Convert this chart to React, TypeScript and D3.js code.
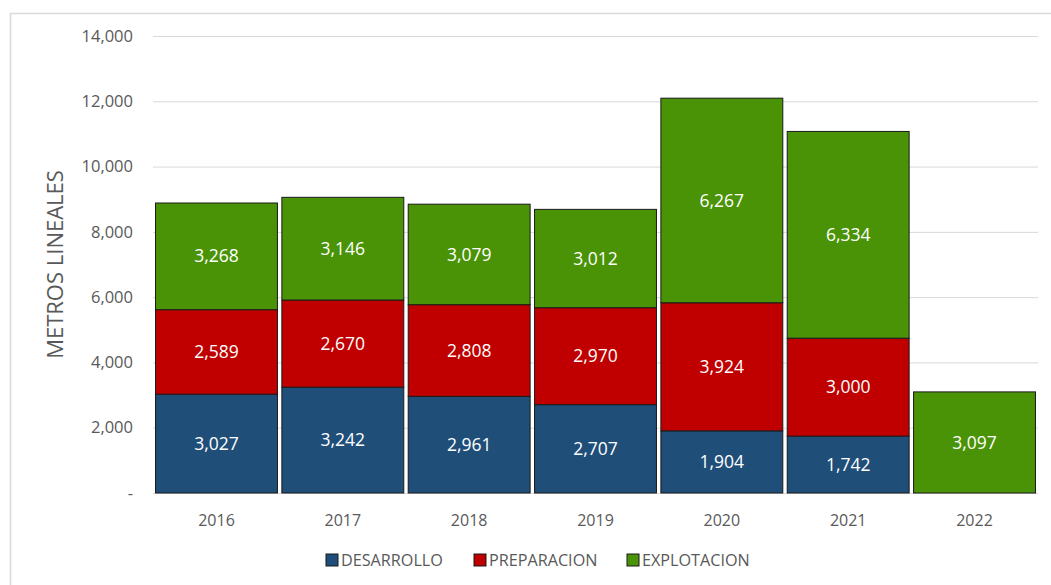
import React from 'react'
import * as d3 from 'd3'

const years = ['2016', '2017', '2018', '2019', '2020', '2021', '2022']
const desarrollo = [3027, 3242, 2961, 2707, 1904, 1742, 0]
const preparacion = [2589, 2670, 2808, 2970, 3924, 3000, 0]
const explotacion = [3268, 3146, 3079, 3012, 6267, 6334, 3097]
const seriesNames = ['DESARROLLO', 'PREPARACION', 'EXPLOTACION']
const colors = ['#1F4E79', '#C00000', '#4A9306']
const yTicks = [0, 2000, 4000, 6000, 8000, 10000, 12000, 14000]

const W = 1051
const H = 585
const margin = { top: 36, right: 13, bottom: 92, left: 153 }
const font = "'Open Sans', 'Noto Sans', sans-serif"

const App = () => {
  const rows = years.map((y, i) => ({
    year: y,
    DESARROLLO: desarrollo[i],
    PREPARACION: preparacion[i],
    EXPLOTACION: explotacion[i]
  }))

  const x = d3.scaleBand()
    .domain(years)
    .range([margin.left, W - margin.right])
    .paddingInner(0.035)
    .paddingOuter(0.02)

  const y = d3.scaleLinear()
    .domain([0, 14000])
    .range([H - margin.bottom, margin.top])

  const stacked = d3.stack<any>().keys(seriesNames)(rows)
  const fmt = d3.format(',')

  const legendX = [326, 474, 627]

  return (
    <svg width={W} height={H} style={{ position: 'absolute', left: 0, top: 0, background: '#fff' }}>
      <rect x={10.5} y={13.5} width={W + 10} height={H + 10} fill='#fff' stroke='#D9D9D9' strokeWidth={1.5} />
      {yTicks.map(t => (
        <g key={t}>
          {t > 0 && (
            <line x1={margin.left} x2={W - margin.right} y1={y(t) + 0.5} y2={y(t) + 0.5} stroke='#D9D9D9' strokeWidth={1} />
          )}
          <text x={133} y={y(t)} dy='0.35em' textAnchor='end' fontFamily={font} fontSize={16.5} fill='#595959'>
            {t === 0 ? '-' : fmt(t)}
          </text>
        </g>
      ))}
      <line x1={margin.left} x2={W - margin.right} y1={y(0) + 0.5} y2={y(0) + 0.5} stroke='#D9D9D9' strokeWidth={1} />
      {stacked.map((s, si) => (
        <g key={s.key}>
          {s.map((d, i) => {
            const v = d[1] - d[0]
            if (v <= 0) return null
            const bx = x(years[i])!
            return (
              <g key={i}>
                <rect x={bx} y={y(d[1])} width={x.bandwidth()} height={y(d[0]) - y(d[1])}
                  fill={colors[si]} stroke='#1a1a1a' strokeWidth={1} />
                <text x={bx + x.bandwidth() / 2} y={(y(d[0]) + y(d[1])) / 2} dy='0.35em'
                  textAnchor='middle' fontFamily={font} fontSize={17.5} fill='#fff'>
                  {fmt(v)}
                </text>
              </g>
            )
          })}
        </g>
      ))}
      {years.map(yr => (
        <text key={yr} x={x(yr)! + x.bandwidth() / 2} y={520} dy='0.35em' textAnchor='middle'
          fontFamily={font} fontSize={16} fill='#595959'>{yr}</text>
      ))}
      <text transform={`translate(55,${(y(0) + y(14000)) / 2}) rotate(-90)`} dy='0.35em' textAnchor='middle'
        fontFamily={font} fontSize={22} fill='#595959'>METROS LINEALES</text>
      {seriesNames.map((n, i) => (
        <g key={n} transform={`translate(${legendX[i]},${560})`}>
          <rect x={0} y={-6} width={12} height={12} fill={colors[i]} stroke='#1a1a1a' strokeWidth={1} />
          <text x={15} y={0} dy='0.35em' fontFamily={font} fontSize={16.2} fill='#595959'>{n}</text>
        </g>
      ))}
    </svg>
  )
}

export default App
